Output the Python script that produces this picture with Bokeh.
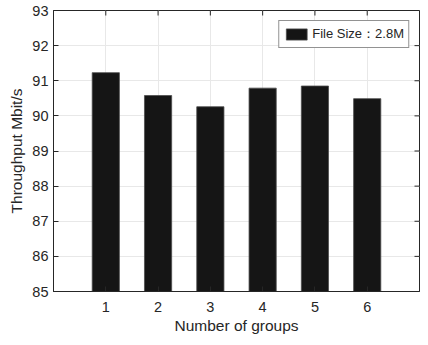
import math
from bokeh.plotting import figure
from bokeh.models import FixedTicker, ColumnDataSource, Legend, LegendItem
from bokeh.embed import file_html
from bokeh.resources import INLINE

groups = [1, 2, 3, 4, 5, 6]
throughput = [91.23, 90.58, 90.26, 90.79, 90.85, 90.49]
y_ticks = [85, 86, 87, 88, 89, 90, 91, 92, 93]
legend_label = "File Size：2.8M"

FONT = "Liberation Sans"
AX = "#262626"
X_MAX = 7

p = figure(width=420, height=337, x_range=(0, X_MAX), y_range=(y_ticks[0], y_ticks[-1]),
           output_backend="svg", toolbar_location=None,
           min_border_left=53, min_border_right=1, min_border_top=10, min_border_bottom=46)
p.background_fill_color = "white"
p.border_fill_color = "white"
p.outline_line_color = AX
p.outline_line_width = 1

src = ColumnDataSource(dict(x=groups, top=throughput, bottom=[y_ticks[0]] * len(groups)))
r = p.vbar(x="x", top="top", bottom="bottom", width=0.52, source=src,
           fill_color="#151515", line_color="#4d4d4d", line_width=0.8)

# inward ticks on the right and top edges of the box
p.scatter(x=[X_MAX] * len(y_ticks), y=y_ticks, marker="dash", size=10,
          line_color=AX, line_width=1)
p.scatter(x=groups, y=[y_ticks[-1]] * len(groups), marker="dash", size=10,
          angle=math.pi / 2, line_color=AX, line_width=1)

for ax in (p.xaxis[0], p.yaxis[0]):
    ax.axis_line_color = AX
    ax.major_tick_line_color = AX
    ax.major_tick_in = 5
    ax.major_tick_out = 0
    ax.minor_tick_line_color = None
    ax.major_label_text_font = FONT
    ax.major_label_text_font_size = "14.5px"
    ax.major_label_text_color = AX
    ax.axis_label_text_font = FONT
    ax.axis_label_text_font_size = "15.5px"
    ax.axis_label_text_font_style = "normal"
    ax.axis_label_text_color = AX

p.xaxis.ticker = FixedTicker(ticks=groups)
p.yaxis.ticker = FixedTicker(ticks=y_ticks)
p.xaxis.axis_label = "Number of groups"
p.yaxis.axis_label = "Throughput Mbit/s"
p.xaxis.major_label_standoff = 10
p.xaxis.axis_label_standoff = 2
p.yaxis.major_label_standoff = 5
p.yaxis.axis_label_standoff = 4

p.xgrid.ticker = FixedTicker(ticks=groups)
p.ygrid.ticker = FixedTicker(ticks=y_ticks)
p.xgrid.grid_line_color = "#e8e8e8"
p.ygrid.grid_line_color = "#e8e8e8"

legend = Legend(items=[LegendItem(label=legend_label, renderers=[r])],
                location="top_right")
legend.margin = 10
legend.padding = 4
legend.spacing = 0
legend.glyph_width = 26
legend.glyph_height = 14
legend.label_standoff = 3
legend.label_text_font = FONT
legend.label_text_font_size = "13px"
legend.label_text_color = AX
legend.label_height = 14
legend.border_line_color = AX
legend.border_line_width = 1
legend.background_fill_alpha = 1
p.add_layout(legend)

open("out.html", "w").write(file_html(p, INLINE))
